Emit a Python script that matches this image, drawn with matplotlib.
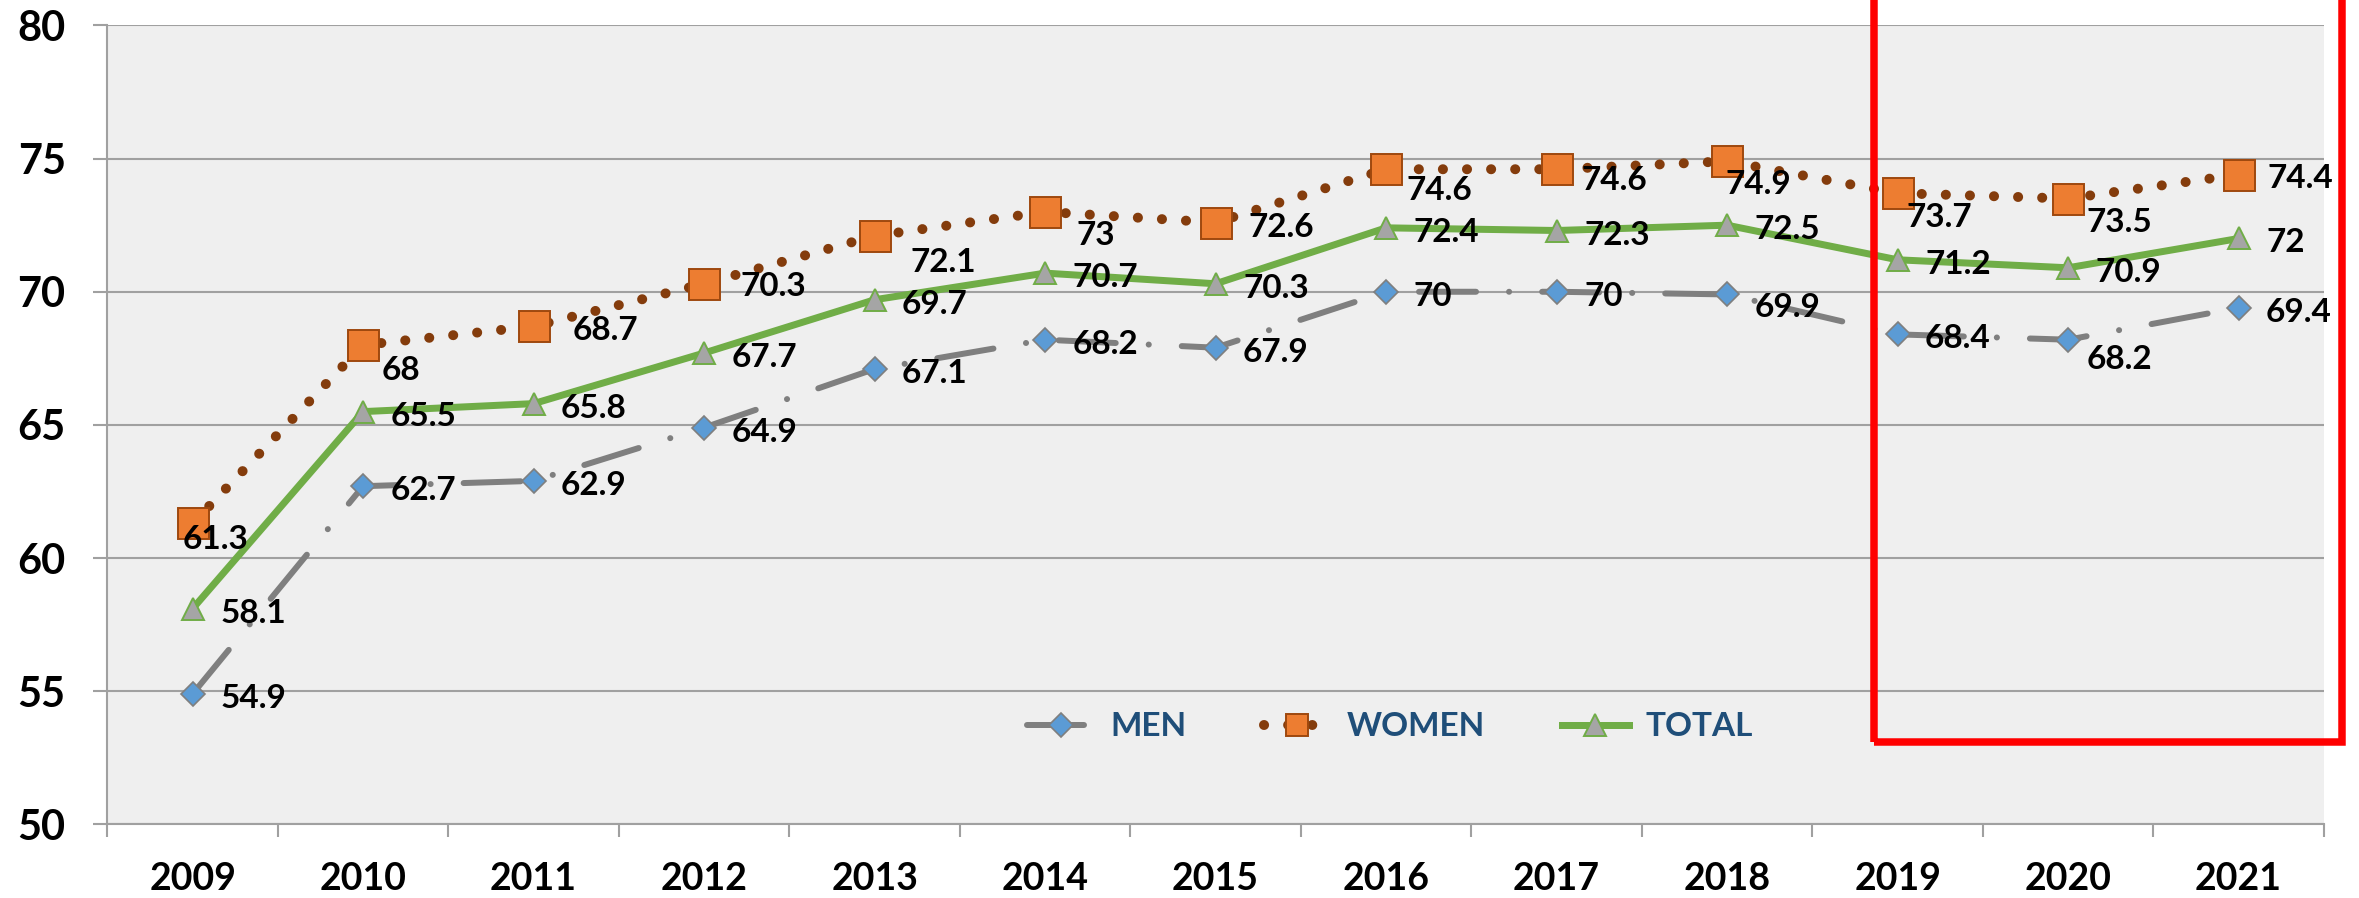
import matplotlib
matplotlib.use('Agg')
import matplotlib.pyplot as plt
from matplotlib.lines import Line2D
from matplotlib.patches import Rectangle

years = [2009, 2010, 2011, 2012, 2013, 2014, 2015, 2016, 2017, 2018, 2019, 2020, 2021]
men = [54.9, 62.7, 62.9, 64.9, 67.1, 68.2, 67.9, 70, 70, 69.9, 68.4, 68.2, 69.4]
women = [61.3, 68, 68.7, 70.3, 72.1, 73, 72.6, 74.6, 74.6, 74.9, 73.7, 73.5, 74.4]
total = [58.1, 65.5, 65.8, 67.7, 69.7, 70.7, 70.3, 72.4, 72.3, 72.5, 71.2, 70.9, 72]
series_names = ['MEN', 'WOMEN', 'TOTAL']

plt.rcParams['font.family'] = ['Lato', 'DejaVu Sans']

PX = 0.72  # pixels -> points at dpi 100
GRID = '#A0A0A0'

fig = plt.figure(figsize=(23.59, 8.98), dpi=100)
ax = fig.add_axes([0.0455, 0.0819, 0.9396, 0.8898])
ax.set_facecolor('#EFEFEF')
x = list(range(len(years)))

styles = {
    'MEN': dict(color='#7F7F7F', lw=6 * PX, linestyle=(0, (9.5, 5.5, 0.02, 5.5)),
                dash_capstyle='round', marker='D', mfc='#5B9BD5', mec='#7F7F7F', mew=1.2),
    'WOMEN': dict(color='#843C0C', lw=10 * PX, linestyle=(0, (0.01, 2.4)),
                  dash_capstyle='round', marker='s', mfc='#ED7D31', mec='#9E480E', mew=1.4),
    'TOTAL': dict(color='#70AD47', lw=7 * PX, marker='^', mfc='#A5A5A5', mec='#70AD47', mew=1.4),
}
msize = {'MEN': 17.5 * PX, 'WOMEN': 31 * PX, 'TOTAL': 23 * PX}
data = {'MEN': men, 'WOMEN': women, 'TOTAL': total}

ax.plot(x, women, ms=msize['WOMEN'], zorder=3, **styles['WOMEN'])
ax.plot(x, total, ms=msize['TOTAL'], zorder=4, **styles['TOTAL'])
ax.plot(x, men, ms=msize['MEN'], zorder=5, **styles['MEN'])

# label nudges (pixels right, pixels down) from the marker centre
nudge = {
    ('WOMEN', 2009): (-8, 14), ('WOMEN', 2010): (20, 23), ('WOMEN', 2011): (41, 2),
    ('WOMEN', 2012): (38, 0), ('WOMEN', 2013): (37, 24), ('WOMEN', 2014): (33, 21),
    ('WOMEN', 2015): (34, 2), ('WOMEN', 2016): (22, 19), ('WOMEN', 2017): (26, 9),
    ('WOMEN', 2018): (0, 21), ('WOMEN', 2019): (10, 22), ('WOMEN', 2020): (20, 21),
    ('WOMEN', 2021): (30, 1),
    ('MEN', 2018): (29, 11), ('MEN', 2020): (20, 17),
}
for name in series_names:
    for xi, yr, v in zip(x, years, data[name]):
        dx, dy = nudge.get((name, yr), (29, 2))
        ax.annotate(f'{v:g}', (xi, v), xytext=((dx - 1.5) * PX, -(dy + 12) * PX),
                    textcoords='offset points', ha='left', va='baseline',
                    fontsize=24, fontweight='bold', color='black', zorder=6)

ax.set_xlim(-0.5, len(years) - 0.5)
ax.set_ylim(50, 80)
ax.set_yticks(range(50, 81, 5))
ax.set_xticks(x)
ax.set_xticklabels(years)
ax.set_xticks([i - 0.5 for i in range(len(years) + 1)], minor=True)
ax.grid(axis='y', color=GRID, lw=1.5, zorder=0)
ax.set_axisbelow(True)
for s in ['top', 'right']:
    ax.spines[s].set_visible(False)
for s in ['left', 'bottom']:
    ax.spines[s].set_color(GRID)
    ax.spines[s].set_linewidth(1.5)
ax.tick_params(axis='y', length=10, width=1.5, color=GRID, pad=20, labelsize=30)
ax.tick_params(axis='x', which='major', length=0, pad=27, labelsize=27)
ax.tick_params(axis='x', which='minor', length=9.4, width=1.5, color=GRID)
for lbl in ax.get_xticklabels() + ax.get_yticklabels():
    lbl.set_fontweight('bold')

handles = []
leg_ms = {'MEN': 17 * PX, 'WOMEN': 22 * PX, 'TOTAL': 23 * PX}
for name in series_names:
    handles.append(Line2D([], [], ms=leg_ms[name], **styles[name]))
leg = ax.legend(handles, series_names, ncol=3, loc='center', bbox_to_anchor=(0.5787, 0.122),
                frameon=False, handlelength=2.0, handletextpad=0.5, columnspacing=2.3,
                prop={'weight': 'bold', 'size': 24})
for t in leg.get_texts():
    t.set_color('#1F4E79')

# red highlight box around the last three years
i0, i1 = years.index(2019), years.index(2021)
ax.add_patch(Rectangle((i0 - 0.138, 53.1), (i1 + 0.604) - (i0 - 0.138), 30,
                       fill=False, edgecolor='#FF0000', lw=7.5 * PX, clip_on=False,
                       joinstyle='miter', zorder=7))

fig.savefig('out.png', dpi=100)
